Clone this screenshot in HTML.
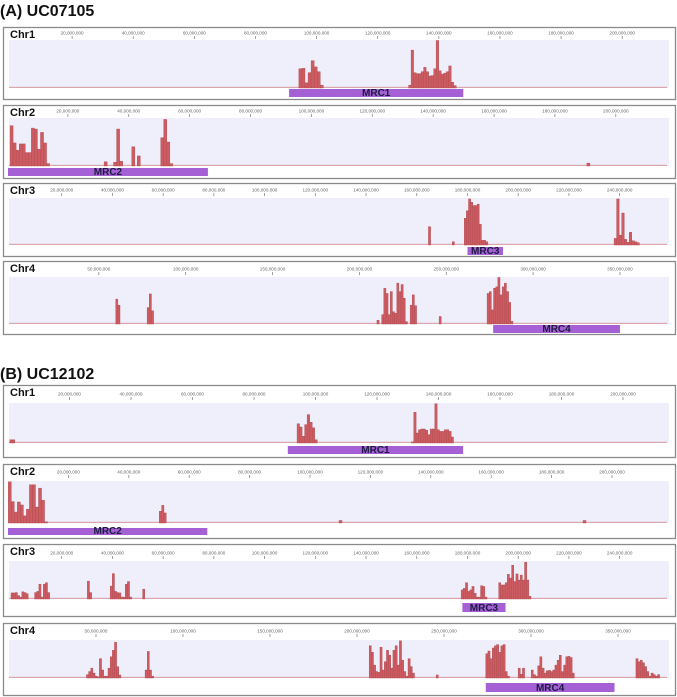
<!DOCTYPE html>
<html><head><meta charset="utf-8">
<style>
html,body{margin:0;padding:0;background:#fff;}
body{width:677px;height:697px;overflow:hidden;font-family:"Liberation Sans",sans-serif;}
svg{display:block}
</style></head>
<body>
<svg id="fig" width="677" height="697" viewBox="0 0 677 697" xmlns="http://www.w3.org/2000/svg">
<text x="0" y="16" font-size="16" font-weight="bold" fill="#111">(A) UC07105</text>
<text x="0" y="379" font-size="16" font-weight="bold" fill="#111">(B) UC12102</text>
</svg>
<script>
// ---- data: peak start positions (Mb), bin size (Mb), bin heights (fraction of track) ----
const A1_starts=[94.2,130.1];
const A1_bins=[1.0,0.82];
const A1_heights=[[.40,.41,.11,.32,.57,.44,.34,.06],[.06,.79,.32,.30,.30,.34,.43,.34,.25,.26,.40,.99,.36,.29,.31,.34,.46,.12,.05]];
const A2_starts=[1.0,31.9,35.0,41.0,42.8,50.5,190.5];
const A2_bins=[1,1,1,1,1,1,1];
const A2_heights=[[.84,.48,.33,.46,.46,.28,.28,.79,.77,.35,.70,.48,.05],[.09],[.08,.77,.10],[.40],[.21],[.59,.97,.50,.05],[.06]];
const A3_starts=[164.6,174.0,178.7,237.8];
const A3_bins=[0.85,0.85,0.85,1.0];
const A3_heights=[[.39],[.07],[.57,.73,.98,.91,.84,.84,.87,.44,.10,.10,.07],[.14,.98,.21,.68,.12,.06,.27,.09,.07,.05]];
const A4_starts=[59.7,77.8,210.1,212.8,229.2,245.9,273.5];
const A4_bins=[1.24,1.24,1.24,1.24,1.24,1.24,1.24];
const A4_heights=[[.53,.40],[.35,.64,.28],[.08],[.20,.76,.65,.20,.69,.26,.23,.87,.69,.84,.55,.05],[.40,.62,.39],[.16],[.65,.69,.30,.76,.79,.99,.62,.79,.87,.69,.46,.06]];
const B1_starts=[0.6,94.0,131.2];
const B1_bins=[0.8,0.82,0.76];
const B1_heights=[[.08,.08],[.48,.40,.17,.46,.71,.52,.38,.08],[.03,.77,.25,.33,.35,.35,.32,.21,.35,.35,.98,.33,.29,.29,.33,.33,.29,.15]];
const B2_starts=[0.1,50.1,109.6,190.4];
const B2_bins=[1.0,0.77,1.0,1.0];
const B2_heights=[[.98,.51,.26,.50,.43,.17,.33,.91,.91,.38,.83,.54,.03],[.28,.42,.24],[.06],[.06]];
const B3_starts=[0.0,9.3,30.1,39.1,51.9,177.5,192.3];
const B3_bins=[0.85,0.85,0.85,0.85,0.85,0.85,0.85];
const B3_heights=[[.16,.16,.17,.09,.05,.19,.17,.14],[.17,.20,.39,.05,.39,.43,.17],[.47,.17],[.34,.67,.20,.17,.16,.05,.05,.39,.46,.05],[.26],[.24,.28,.43,.20,.24,.33,.15,.05,.05,.35,.33,.05],[.43,.37,.37,.43,.65,.55,.89,.46,.66,.50,.63,.50,.97,.50,.07]];
const B4_starts=[44.5,78.2,207.0,245.5,274.0,292.6,300.1,360.3];
const B4_bins=[1.24,1.24,1.24,1.24,1.24,1.24,1.24,1.24];
const B4_heights=[[.09,.17,.26,.13,.05,.03,.51,.21,.05,.05,.26,.56,.73,.94,.30,.08],[.21,.70,.21,.05],[.85,.68,.34,.17,.15,.81,.21,.43,.73,.60,.26,.73,.85,.34,.98,.47,.17,.05,.51,.30,.13],[.08],[.64,.71,.51,.79,.85,.88,.68,.85,.88,.17,.05],[.26,.10,.26],[.21,.09,.05,.32,.56,.26,.13,.19,.20,.17,.21,.34,.47,.60,.17,.34,.56,.57,.54,.13],[.51,.43,.47,.40,.30,.17,.05,.13,.09,.05,.09]];
// MRC regions (Mb)
const mrcStart=[91,0,180,277,91,0,178,274];
const mrcEnd=[148,66,194,350,148,66,195,348];
const mrcLabels=["MRC1","MRC2","MRC3","MRC4","MRC1","MRC2","MRC3","MRC4"];
const chrLabels=["Chr1","Chr2","Chr3","Chr4","Chr1","Chr2","Chr3","Chr4"];
const ticks12=[20,40,60,80,100,120,140,160,180,200];
const ticks3=[20,40,60,80,100,120,140,160,180,200,220,240];
const ticks4=[50,100,150,200,250,300,350];

// ---- layout (not data) ----
const NS="http://www.w3.org/2000/svg";
const svg=document.getElementById('fig');
const panels=[
 {id:'a1',s:A1_starts,b:A1_bins,h:A1_heights,ticks:ticks12,off:11,k:3.056,box:[27,99],lab:33,plot:[40,88],mrc:[89,97]},
 {id:'a2',s:A2_starts,b:A2_bins,h:A2_heights,ticks:ticks12,off:7,k:3.044,box:[105,178],lab:111,plot:[118,166],mrc:[168,176]},
 {id:'a3',s:A3_starts,b:A3_bins,h:A3_heights,ticks:ticks3,off:11,k:2.536,box:[183,256],lab:190,plot:[198,245],mrc:[247,255]},
 {id:'a4',s:A4_starts,b:A4_bins,h:A4_heights,ticks:ticks4,off:12,k:1.737,box:[261,334],lab:269,plot:[277,324],mrc:[325,333]},
 {id:'b1',s:B1_starts,b:B1_bins,h:B1_heights,ticks:ticks12,off:8,k:3.075,box:[385,457],lab:394,plot:[403,443],mrc:[446,454]},
 {id:'b2',s:B2_starts,b:B2_bins,h:B2_heights,ticks:ticks12,off:8,k:3.02,box:[464,538],lab:472,plot:[481,523],mrc:[528,535]},
 {id:'b3',s:B3_starts,b:B3_bins,h:B3_heights,ticks:ticks3,off:11,k:2.536,box:[544,616],lab:553,plot:[561,599],mrc:[603,612]},
 {id:'b4',s:B4_starts,b:B4_bins,h:B4_heights,ticks:ticks4,off:9,k:1.74,box:[623,695],lab:631,plot:[640,678],mrc:[683,692]}
];
function mk(tag,attrs){const e=document.createElementNS(NS,tag);for(const a in attrs)e.setAttribute(a,attrs[a]);return e;}
function fmt(m){return (m*1000000).toLocaleString('en-US');}
panels.forEach((p,i)=>{
  const g=mk('g',{});
  
  
  svg.appendChild(g);
  const xs=m=>p.off+m*p.k;
  const H=p.plot[1]-p.plot[0];
  const ys=v=>p.plot[1]-v*H;
  const box=mk('rect',{x:3.5,y:p.box[0]+0.5,width:672,height:p.box[1]-p.box[0],fill:'#fff',stroke:'#8a8a8a','stroke-width':1.3});
  
  
  g.appendChild(box);
  const bg=mk('rect',{x:9,y:p.plot[0],width:660,height:H,fill:'#efeffb'});
  
  
  g.appendChild(bg);
  const cl=mk('text',{x:10,y:p.box[0]+11,'font-size':11,'font-weight':'bold',fill:'#111'});
  cl.textContent=chrLabels[i];
  
  
  g.appendChild(cl);
  p.ticks.forEach(t=>{
    const x=xs(t);
    const tl=mk('text',{x:x,y:p.lab+1.5,'font-size':4.6,fill:'#666','text-anchor':'middle'});
    tl.textContent=fmt(t);
    
    
    g.appendChild(tl);
    const tk=mk('line',{x1:x,x2:x,y1:p.lab+3,y2:p.lab+6,stroke:'#777','stroke-width':0.7});
    
    
    g.appendChild(tk);
  });
  const base=mk('rect',{x:9,y:p.plot[1]-1.2,width:658,height:1.2,fill:'#d9a7ad'});
  
  
  g.appendChild(base);
  p.s.forEach((st,j)=>{
    p.h[j].forEach((v,q)=>{
      const m=st+q*p.b[j];
      const x=xs(m), w=Math.max(1,p.b[j]*p.k);
      const r=mk('rect',{x:x,y:ys(v),width:w,height:v*H,fill:'#cc5c61',stroke:'#b04a50','stroke-width':0.4});
      
      
      g.appendChild(r);
    });
  });
  const x0=Math.max(8,xs(mrcStart[i])), x1=xs(mrcEnd[i]);
  const mb=mk('rect',{x:x0,y:p.mrc[0],width:x1-x0,height:p.mrc[1]-p.mrc[0],fill:'#a560d6'});
  
  
  g.appendChild(mb);
  const ml=mk('text',{x:(x0+x1)/2,y:p.mrc[1]-0.8,'font-size':10,'font-weight':'bold',fill:'#1c1c40','text-anchor':'middle'});
  ml.textContent=mrcLabels[i];
  
  
  g.appendChild(ml);
});
</script>
</body></html>
